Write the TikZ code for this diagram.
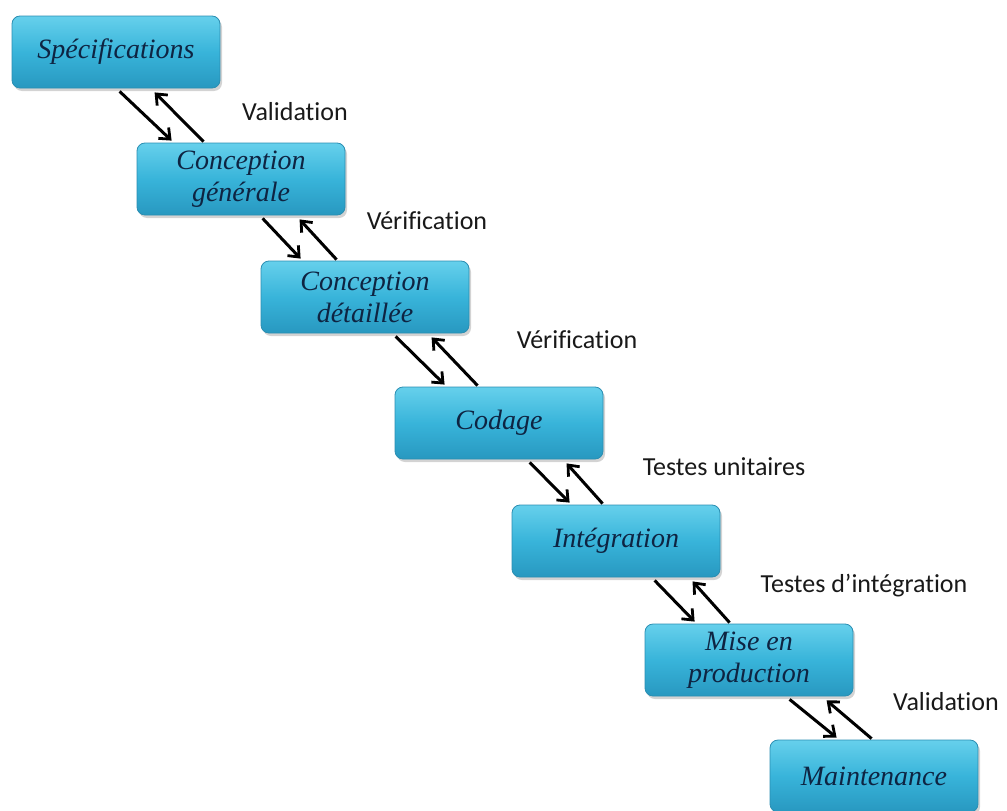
\documentclass[tikz,border=0pt]{standalone}
\usepackage{fontspec}
\setmainfont{Liberation Serif}
\newfontfamily\labelfont[RawFeature={-liga;-clig;-calt;-dlig}]{Carlito}
\usetikzlibrary{arrows.meta,shadows,calc}

\definecolor{boxtop}{HTML}{66D0EC}
\definecolor{boxmid}{HTML}{38B4DA}
\definecolor{boxbot}{HTML}{2898C0}
\definecolor{boxedge}{HTML}{2A8EB2}
\definecolor{boxtext}{HTML}{0E2442}

\tikzset{
  phase/.style={rounded corners=8pt, minimum width=208pt, minimum height=72pt,
    inner sep=0pt, align=center, draw=boxedge, line width=0.8pt,
    top color=boxtop, bottom color=boxbot, middle color=boxmid,
    drop shadow={shadow xshift=2pt, shadow yshift=-3pt, opacity=0.35},
    font=\fontsize{28}{32}\selectfont\itshape, text=boxtext},
  steplabel/.style={font=\labelfont\fontsize{26}{30}\selectfont, text=black!90},
  flow/.style={line width=3pt, -{Straight Barb[length=9pt,width=15pt,line width=2.8pt]}}
}

\begin{document}
\begin{tikzpicture}[x=1pt,y=-1pt]
\useasboundingbox (0,0) rectangle (1007,811);

% phases of the cycle
\node[phase] (b1) at (116,52)  {Spécifications};
\node[phase] (b2) at (241,179) {Conception\\générale};
\node[phase] (b3) at (365,297) {Conception\\détaillée};
\node[phase] (b4) at (499,423) {Codage};
\node[phase] (b5) at (616,541) {Intégration};
\node[phase] (b6) at (749,660) {Mise en\\production};
\node[phase] (b7) at (874,776) {Maintenance};

% forward and backward arrows between consecutive phases
\draw[flow] ($(b1.south west)+(108,3)$) -- ($(b2.north west)+(35,-2)$);
\draw[flow] ($(b2.north west)+(67,-1)$) -- ($(b1.south west)+(143,4)$);

\draw[flow] ($(b2.south west)+(126,3)$) -- ($(b3.north west)+(40,-2)$);
\draw[flow] ($(b3.north west)+(76,-1)$) -- ($(b2.south west)+(163,4)$);

\draw[flow] ($(b3.south west)+(135,3)$) -- ($(b4.north west)+(50,-2)$);
\draw[flow] ($(b4.north west)+(83,-1)$) -- ($(b3.south west)+(171,4)$);

\draw[flow] ($(b4.south west)+(135,3)$) -- ($(b5.north west)+(58,-2)$);
\draw[flow] ($(b5.north west)+(91,-1)$) -- ($(b4.south west)+(172,4)$);

\draw[flow] ($(b5.south west)+(143,3)$) -- ($(b6.north west)+(50,-2)$);
\draw[flow] ($(b6.north west)+(85,-1)$) -- ($(b5.south west)+(181,4)$);

\draw[flow] ($(b6.south west)+(145,3)$) -- ($(b7.north west)+(67,-2)$);
\draw[flow] ($(b7.north west)+(102,-1)$) -- ($(b6.south west)+(182,4)$);

% checks between phases
\node[steplabel] (l1) at (295,112) {Validation};
\node[steplabel] (l2) at (427,221) {Vérification};
\node[steplabel] (l3) at (577,340) {Vérification};
\node[steplabel] (l4) at (724,467) {Testes unitaires};
\node[steplabel] (l5) at (864,586) {Testes d’intégration};
\node[steplabel] (l6) at (946,702) {Validation};
\end{tikzpicture}
\end{document}
